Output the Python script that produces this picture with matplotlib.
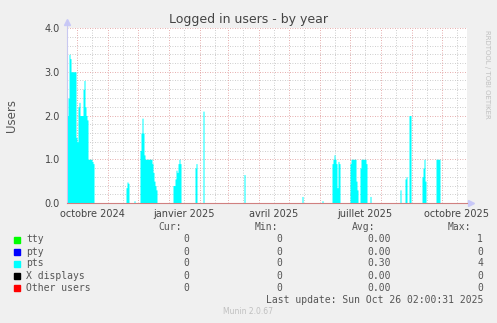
import matplotlib
matplotlib.use("Agg")
import matplotlib.pyplot as plt
import pandas as pd

# time window shown (munin yearly graph, 400 days)
start = pd.Timestamp("2024-09-21")
end = pd.Timestamp("2025-10-26")

# pts sessions, daily values (all other days are 0)
pts_dates = [
    "2024-09-21", "2024-09-22", "2024-09-23", "2024-09-24", "2024-09-25", "2024-09-26",
    "2024-09-27", "2024-09-28", "2024-09-29", "2024-09-30", "2024-10-01", "2024-10-02",
    "2024-10-03", "2024-10-04", "2024-10-05", "2024-10-06", "2024-10-07", "2024-10-08",
    "2024-10-09", "2024-10-10", "2024-10-11", "2024-10-12", "2024-10-13", "2024-10-14",
    "2024-10-15", "2024-10-16", "2024-10-17",
    "2024-11-19", "2024-11-20", "2024-11-21", "2024-11-27",
    "2024-12-03", "2024-12-04", "2024-12-05", "2024-12-06", "2024-12-07", "2024-12-08",
    "2024-12-09", "2024-12-10", "2024-12-11", "2024-12-12", "2024-12-13", "2024-12-14",
    "2024-12-15", "2024-12-16", "2024-12-17", "2024-12-18", "2024-12-19",
    "2025-01-05", "2025-01-06", "2025-01-07", "2025-01-08", "2025-01-09", "2025-01-10",
    "2025-01-11", "2025-01-12", "2025-01-27", "2025-01-28", "2025-02-04",
    "2025-03-17", "2025-05-14", "2025-06-03",
    "2025-06-13", "2025-06-14", "2025-06-15", "2025-06-16", "2025-06-17", "2025-06-18",
    "2025-06-19", "2025-06-20",
    "2025-07-01", "2025-07-02", "2025-07-03", "2025-07-04", "2025-07-05", "2025-07-06",
    "2025-07-07", "2025-07-08",
    "2025-07-11", "2025-07-12", "2025-07-13", "2025-07-14", "2025-07-15", "2025-07-16",
    "2025-07-17", "2025-07-21",
    "2025-08-20", "2025-08-25", "2025-08-26", "2025-08-29", "2025-08-30",
    "2025-09-11", "2025-09-12", "2025-09-13", "2025-09-14",
    "2025-09-25", "2025-09-26", "2025-09-27", "2025-09-28",
]
pts_values = [
    2.0, 2.4, 3.4, 3.3, 3.0, 3.0,
    3.0, 3.0, 3.0, 1.5, 1.4, 2.2,
    2.3, 2.0, 2.0, 2.0, 2.6, 2.8,
    2.2, 2.0, 1.9, 1.0, 1.0, 1.0,
    1.0, 0.95, 0.9,
    0.35, 0.48, 0.45, 0.05,
    1.2, 1.6, 1.94, 1.6, 1.1, 1.0,
    1.0, 1.0, 1.0, 1.0, 1.0, 1.0,
    0.9, 0.7, 0.5, 0.4, 0.3,
    0.4, 0.4, 0.55, 0.75, 0.7, 0.9,
    1.0, 0.9, 0.8, 0.9, 2.1,
    0.65, 0.15, 0.05,
    0.9, 1.0, 1.1, 1.0, 0.9, 0.35,
    0.95, 0.9,
    0.9, 1.0, 1.0, 1.0, 1.0, 1.0,
    0.5, 0.3,
    0.8, 1.0, 1.0, 1.0, 1.0, 1.0,
    0.9, 0.15,
    0.3, 0.55, 0.6, 2.0, 2.0,
    0.6, 0.8, 1.0, 0.5,
    1.0, 1.0, 1.0, 1.0,
]

y_ticks = [0, 1, 2, 3, 4]
y_ticklabels = ["0.0", "1.0", "2.0", "3.0", "4.0"]
x_label_dates = ["2024-10-16", "2025-01-16", "2025-04-16", "2025-07-16", "2025-10-16"]
x_labels = ["octobre 2024", "janvier 2025", "avril 2025", "juillet 2025", "octobre 2025"]

legend_names = ["tty", "pty", "pts", "X displays", "Other users"]
legend_colors = ["#00FF00", "#0000FF", "#00FFFF", "#000000", "#FF0000"]
cur_vals = ["0", "0", "0", "0", "0"]
min_vals = ["0", "0", "0", "0", "0"]
avg_vals = ["0.00", "0.00", "0.30", "0.00", "0.00"]
max_vals = ["1", "0", "4", "0", "0"]

W, H = 497, 323


def fx(x):
    return x / W


def fy(y):
    return 1 - y / H


days = pd.date_range(start, end, freq="D")
pts = pd.Series(0.0, index=days)
pts.loc[pd.to_datetime(pts_dates)] = pts_values

fig = plt.figure(figsize=(W / 100, H / 100), dpi=100, facecolor="#F0F0F0")
ax = fig.add_axes([fx(67), fy(203), fx(467) - fx(67), fy(28) - fy(203)])
ax.set_facecolor("white")

# grid: minor gray, major red (dotted like rrdtool)
minor_c, major_c = "#BDBDBD", "#DD9090"
for v in [i * 0.2 for i in range(1, 20)]:
    if abs(v - round(v)) > 1e-6:
        ax.axhline(v, color=minor_c, lw=0.6, ls=(0, (1, 2)), zorder=0)
for v in y_ticks[1:]:
    ax.axhline(v, color=major_c, lw=0.6, ls=(0, (1, 2)), zorder=0)
month_starts = pd.date_range("2024-10-01", "2025-10-01", freq="MS")
for m in month_starts:
    ax.axvline(m + pd.Timedelta(days=15), color=minor_c, lw=0.6, ls=(0, (1, 2)), zorder=0)
    ax.axvline(m, color=major_c, lw=0.6, ls=(0, (1, 2)), zorder=0)

ax.fill_between(days, pts.values, step="post", color="#00FFFF", lw=0, zorder=2)

ax.set_xlim(start, end)
ax.set_ylim(0, 4)
ax.set_yticks(y_ticks)
ax.set_yticklabels(y_ticklabels)
ax.set_xticks(pd.to_datetime(x_label_dates))
ax.set_xticklabels(x_labels)
ax.tick_params(axis="both", length=0, labelsize=7, colors="#444444")
ax.tick_params(axis="x", pad=4)
ax.tick_params(axis="y", pad=5)

for s in ["top", "right"]:
    ax.spines[s].set_visible(False)
ax.spines["bottom"].set_color("#D08080")
ax.spines["bottom"].set_linewidth(0.8)
ax.spines["left"].set_color("#C8C8F0")
ax.spines["left"].set_linewidth(0.8)
ax.spines["left"].set_bounds(0, 4.15)
ax.plot([0], [1.035], marker="^", ms=5, color="#C8C8F8", transform=ax.transAxes,
        clip_on=False)
ax.plot([1.01], [0], marker=">", ms=5, color="#C8C8F8", transform=ax.transAxes,
        clip_on=False)

fig.text(0.5, fy(20), "Logged in users - by year", ha="center", va="center",
         fontsize=9, color="#444444")
fig.text(fx(11), fy(115), "Users", rotation=90, ha="center", va="center",
         fontsize=8.5, color="#555555")
fig.text(fx(487), fy(30), "RRDTOOL / TOBI OETIKER", rotation=270, ha="center",
         va="top", fontsize=5, color="#C0C0C0")

mono = dict(family="DejaVu Sans Mono", fontsize=7, color="#555555", va="center")
fig.text(fx(182), fy(227), "Cur:", ha="right", **mono)
fig.text(fx(278), fy(227), "Min:", ha="right", **mono)
fig.text(fx(375), fy(227), "Avg:", ha="right", **mono)
fig.text(fx(471), fy(227), "Max:", ha="right", **mono)

row_y = [239.5, 252, 263.5, 276, 288]
for i, name in enumerate(legend_names):
    y = row_y[i]
    fig.patches.append(plt.Rectangle((fx(14), fy(y + 3)), 6 / W, 6 / H,
                                     transform=fig.transFigure, color=legend_colors[i]))
    fig.text(fx(26), fy(y), name, ha="left", **mono)
    fig.text(fx(189), fy(y), cur_vals[i], ha="right", **mono)
    fig.text(fx(282), fy(y), min_vals[i], ha="right", **mono)
    fig.text(fx(391), fy(y), avg_vals[i], ha="right", **mono)
    fig.text(fx(483), fy(y), max_vals[i], ha="right", **mono)

fig.text(fx(483), fy(300), "Last update: Sun Oct 26 02:00:31 2025", ha="right", **mono)
fig.text(fx(248), fy(312), "Munin 2.0.67", ha="center", va="center",
         fontsize=5.5, color="#C0C0C0")

fig.savefig("out.png", dpi=100, facecolor=fig.get_facecolor())
